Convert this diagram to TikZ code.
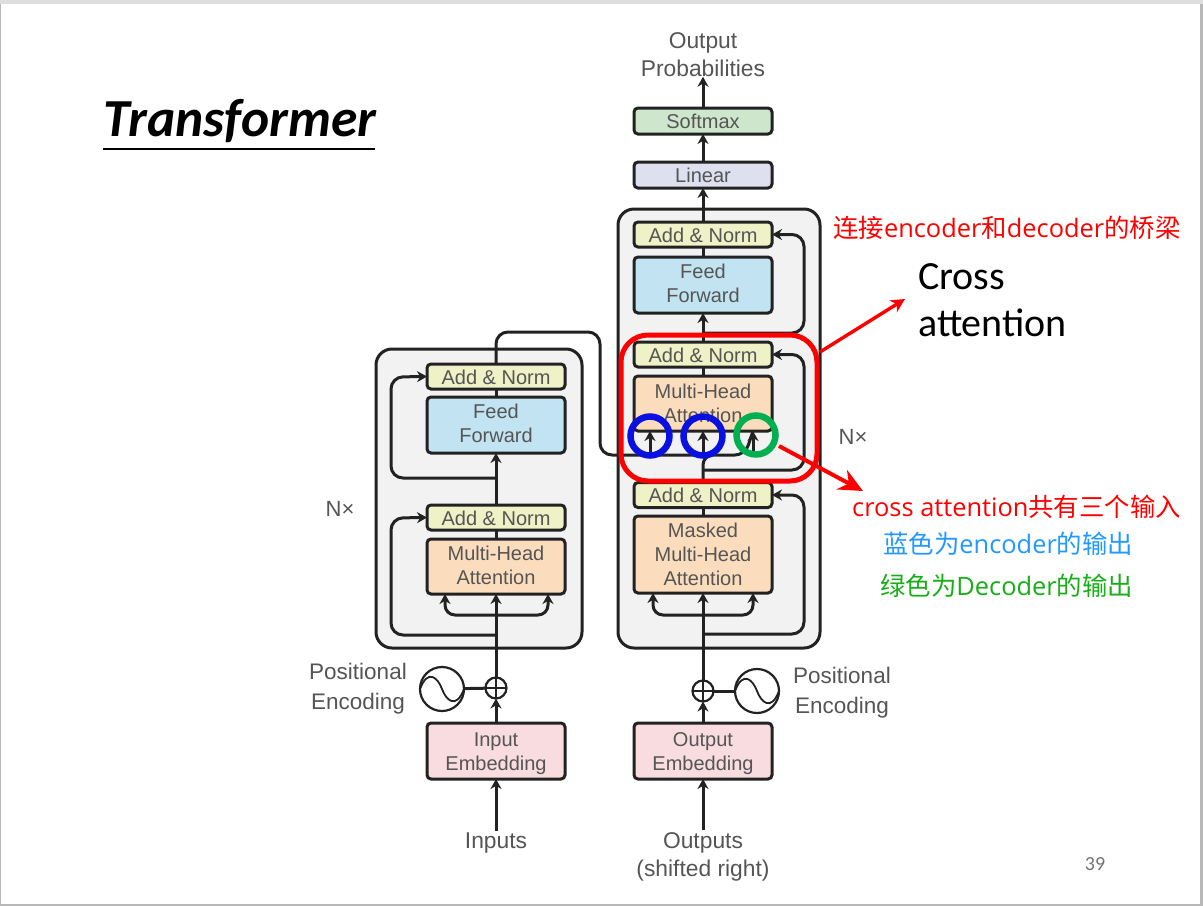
\documentclass[tikz,border=0pt]{standalone}
\usepackage{fontspec}
\setmainfont{Liberation Sans}
\newfontfamily\cjk{Noto Sans CJK SC}
\newfontfamily\cali{Carlito}
\newfontfamily\opens{Open Sans}
\usetikzlibrary{arrows.meta}
\definecolor{ln}{HTML}{222222}
\definecolor{tx}{HTML}{555555}
\newcommand{\nudge}[2]{\raisebox{#1}[\height][\depth]{\begin{tabular}{@{}c@{}}#2\end{tabular}}}
\tikzset{
  x=1pt,y=-1pt,
  blk/.style={draw=ln,line width=3pt,rounded corners=4pt,minimum width=138pt,outer sep=0pt,inner sep=0pt,align=center,text=tx,font=\fontsize{20}{24}\selectfont},
  addnorm/.style={blk,fill=addc,minimum height=25pt},
  ffbox/.style={blk,fill=ffc,minimum height=56pt},
  attbox/.style={blk,fill=attc,minimum height=55pt},
  embbox/.style={blk,fill=embc,minimum height=56pt},
  block/.style={draw=ln,line width=3pt,fill=blockc,rounded corners=16pt,outer sep=0pt},
  lbl/.style={text=tx,align=center,inner sep=0pt,font=\fontsize{22.8}{28}\selectfont},
  poslbl/.style={text=tx,align=center,inner sep=0pt,font=\fontsize{22.5}{30}\selectfont},
  nxlbl/.style={text=tx,inner sep=0pt,font=\fontsize{22}{24}\selectfont},
  conn/.style={draw=ln,line width=3pt},
  arr/.style={conn,-{Stealth[length=10pt,width=11pt]}},
  loop/.style={arr,rounded corners=12pt},
  ring/.style={circle,line width=6.5pt,minimum size=39pt,inner sep=0pt,outer sep=0pt},
  note/.style={inner sep=0pt,font=\opens\fontsize{25.4}{30}\selectfont},
  wheel/.style={draw=ln,line width=2.2pt,circle,inner sep=0pt,outer sep=0pt},
  wave/.style={draw=ln,line width=1.8pt}
}
\definecolor{addc}{HTML}{EFF2C6}
\definecolor{ffc}{HTML}{C2E4F2}
\definecolor{attc}{HTML}{FBDDBE}
\definecolor{embc}{HTML}{F8DCE0}
\definecolor{softc}{HTML}{CDE6CC}
\definecolor{linc}{HTML}{DEDFEF}
\definecolor{blockc}{HTML}{F2F2F3}
\definecolor{ringblue}{HTML}{0A10E0}
\definecolor{ringgreen}{HTML}{00B050}
\definecolor{noteblue}{HTML}{2299FF}
\definecolor{notegreen}{HTML}{18AE18}
\begin{document}
\begin{tikzpicture}
\useasboundingbox (0,0) rectangle (1203,906);
\fill[black!28] (0,0) rectangle (1203,906);
\fill[black!13] (0,0) rectangle (1203,4);
\fill[white] (1,4) rectangle (1200,904);
% title
\node[inner sep=0pt,font=\cali\bfseries\itshape\fontsize{53.5}{56}\selectfont] (title) at (240,121) {Transformer};
\coordinate (ula) at (103,149); \coordinate (ulb) at (375,149);
\draw[line width=1.2pt] (ula) -- (ulb);
% blocks
\node[block,minimum width=206pt,minimum height=299pt] (encblock) at (479,498.5) {};
\node[block,minimum width=202pt,minimum height=439pt] (decblock) at (719,428.5) {};
% boxes
\node[blk,fill=softc,minimum height=26pt] (soft) at (703,121) {Softmax};
\node[blk,fill=linc,minimum height=26pt] (lin) at (703,175) {Linear};
\node[addnorm] (da) at (703,234.5) {\nudge{-3pt}{Add \& Norm}};
\node[ffbox] (df) at (703,285) {\nudge{-1pt}{Feed\\Forward}};
\node[addnorm] (db) at (703,354.5) {\nudge{-3pt}{Add \& Norm}};
\node[attbox,anchor=north] (dm) at (703,376) {Multi-Head\\Attention};
\node[addnorm] (dc) at (703,495) {Add \& Norm};
\node[blk,fill=attc,minimum height=77pt] (dk) at (703,554.5) {Masked\\Multi-Head\\Attention};
\node[embbox] (de) at (703,751) {\nudge{-2.5pt}{Output\\Embedding}};
\node[addnorm] (ea) at (496,376.5) {\nudge{-3pt}{Add \& Norm}};
\node[ffbox] (ef) at (496,425) {\nudge{-1pt}{Feed\\Forward}};
\node[addnorm] (eb) at (496,517.5) {\nudge{-3pt}{Add \& Norm}};
\node[attbox] (em) at (496,566.5) {\nudge{-1pt}{Multi-Head\\Attention}};
\node[embbox] (ee) at (496,751) {\nudge{-2.5pt}{Input\\Embedding}};
% labels
\node[lbl] (outp) at (703,54.5) {Output\\Probabilities};
\node[lbl] (inp) at (496,843) {Inputs};
\node[lbl] (oup) at (703,857) {Outputs\\(shifted right)};
\node[poslbl] (pe) at (358,689) {Positional\\Encoding};
\node[poslbl] (pd) at (842,693) {Positional\\Encoding};
\node[nxlbl] (n1) at (340,509) {N×};
\node[nxlbl] (n2) at (853,437) {N×};
% positional
\node[wheel,minimum size=21pt] (eo) at (496,688) {};
\draw[wave] (eo.west) -- (eo.east) (eo.north) -- (eo.south);
\node[wheel,minimum size=44pt] (es) at (442,689) {};
\draw[wave] (es.west) .. controls (428,668) and (438,678) .. (es.center) .. controls (446,700) and (456,710) .. (es.east);
\node[wheel,minimum size=21pt] (do) at (703,691) {};
\draw[wave] (do.west) -- (do.east) (do.north) -- (do.south);
\node[wheel,minimum size=44pt] (ds) at (757,691) {};
\draw[wave] (ds.west) .. controls (743,670) and (753,680) .. (ds.center) .. controls (761,702) and (771,712) .. (ds.east);
\draw[conn] (eo) -- (es);
\draw[conn] (do) -- (ds);
% vertical connectors encoder
\draw[arr] (inp.north) ++(0,-2) -- (ee.south);
\draw[arr] (ee.north) -- (eo.south);
\draw[arr] (eo.north) -- (em.south);
\draw[conn] (em.north) -- (eb.south);
\draw[arr] (eb.north) -- (ef.south);
\draw[conn] (ef.north) -- (ea.south);
% decoder
\draw[arr] (oup.north) ++(0,-2) -- (de.south);
\draw[arr] (de.north) -- (do.south);
\draw[arr] (do.north) -- (dk.south);
\draw[conn] (dk.north) -- (dc.south);
\draw[conn] (dm.north) -- (db.south);
\draw[arr] (db.north) -- (df.south);
\draw[conn] (df.north) -- (da.south);
\draw[arr] (da.north) -- (lin.south);
\draw[arr] (lin.north) -- (soft.south);
\draw[arr] (soft.north) -- (outp.south);
% residual loops
\coordinate (e1) at (496,478); \coordinate (e2) at (496,635);
\draw[loop] (e1) -| (391,377) -- (ea.west);
\draw[loop] (e2) -| (391,518) -- (eb.west);
\coordinate (d1) at (703,333); \coordinate (d2) at (703,470); \coordinate (d3) at (703,634);
\draw[loop] (d1) -| (804,234.5) -- (da.east);
\draw[loop] (d2) -| (804,354.5) -- (db.east);
\draw[loop] (d3) -| (804,495) -- (dc.east);
% attention fan-ins
\coordinate (eb1) at (445,615); \coordinate (eb2) at (548,615); \coordinate (et) at (496,615);
\draw[arr,rounded corners=10pt] (et) -| (eb1 |- em.south);
\draw[arr,rounded corners=10pt] (et) -| (eb2 |- em.south);
\coordinate (db1) at (653,615); \coordinate (db2) at (753,615); \coordinate (dt) at (703,615);
\draw[arr,rounded corners=10pt] (dt) -| (db1 |- dk.south);
\draw[arr,rounded corners=10pt] (dt) -| (db2 |- dk.south);
% encoder to decoder
\coordinate (ci) at (650,455); \coordinate (cm) at (703,455); \coordinate (cr) at (753,455);
\draw[conn,rounded corners=12pt] (ea.north) -- (496,332) -- (600,332) -- (600,455) -- (cm);
\draw[conn,rounded corners=10pt] (dc.north) -- (703,455) -- (745,455) -- (cr |- dm.south);
\draw[arr] (ci) -- (ci |- dm.south);
\draw[arr] (cm) -- (cm |- dm.south);
\draw[arr] (cr) -- (cr |- dm.south);
% highlight
\node[draw=red,line width=5pt,rounded corners=27pt,minimum width=196pt,minimum height=146pt,outer sep=0pt] (redbox) at (719,408) {};
\node[ring,draw=ringblue] (c1) at (650,436) {};
\node[ring,draw=ringblue] (c2) at (703,436) {};
\node[ring,draw=ringgreen] (c3) at (756,435) {};
% notes
\node[anchor=west,text=red,note] (t1) at (833,228) {{\cjk 连接}encoder{\cjk 和}decoder{\cjk 的桥梁}};
\node[anchor=north west,align=left,inner sep=0pt,font=\cali\fontsize{40}{47}\selectfont] (t2) at (918,263) {Cross\\attention};
\node[anchor=west,text=red,note] (t3) at (852,507) {cross attention{\cjk 共有三个输入}};
\node[anchor=west,text=noteblue,note] (t4) at (883,544) {{\cjk 蓝色为}encoder{\cjk 的输出}};
\node[anchor=west,text=notegreen,note] (t5) at (880,586) {{\cjk 绿色为}Decoder{\cjk 的输出}};
\node[text=black!55,inner sep=0pt,font=\cali\fontsize{20}{22}\selectfont] (pg) at (1095,864) {39};
% red arrows
\coordinate (a1) at (820,352); \coordinate (a2) at (905,299);
\draw[draw=red,line width=3.4pt,-{Stealth[length=14pt,width=14pt]}] (a1) -- (a2);
\coordinate (a3) at (779,446); \coordinate (a4) at (863,491);
\draw[draw=red,line width=4pt,-{Stealth[length=24pt,width=22pt,inset=8pt]}] (a3) -- (a4);
\end{tikzpicture}
\end{document}
